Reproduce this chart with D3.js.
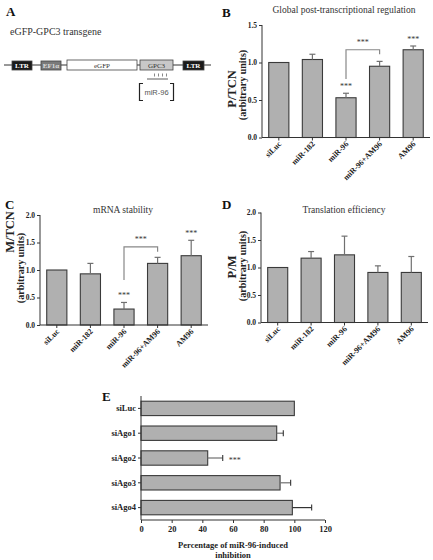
<!DOCTYPE html>
<html><head><meta charset="utf-8">
<script src="https://cdn.jsdelivr.net/npm/d3@7"></script>
<style>body{margin:0;background:#fff}svg{display:block}</style>
</head><body>
<svg id="c" width="433" height="560"></svg>
<script>
// ---------- data ----------
const cats = ["siLuc","miR-182","miR-96","miR-96+AM96","AM96"];
const bVals = [1.0, 1.04, 0.53, 0.95, 1.17];
const bErr  = [0, 0.07, 0.06, 0.065, 0.05];
const cVals = [1.0, 0.93, 0.29, 1.12, 1.26];
const cErr  = [0, 0.19, 0.12, 0.11, 0.28];
const dVals = [1.0, 1.17, 1.23, 0.91, 0.91];
const dErr  = [0, 0.12, 0.34, 0.12, 0.29];
const bTicks = [0, 0.5, 1.0, 1.5];
const cdTicks = [0, 0.5, 1.0, 1.5, 2.0];
const eCats = ["siLuc","siAgo1","siAgo2","siAgo3","siAgo4"];
const eVals = [100, 88.5, 43.5, 90.7, 98.7];
const eErr  = [0, 4.3, 9.8, 6.9, 12.6];
const eTicks = [0, 20, 40, 60, 80, 100, 120];
const bStars = [2, 4];
const cStars = [2, 4];
const eStars = [2];
const bBracket = {from: 2, to: 3, left: 0.78, top: 1.17, right: 1.11};
const cBracket = {from: 2, to: 3, left: 0.82, top: 1.42, right: 1.33};

const svg = d3.select("#c");
const SERIF = "'Liberation Serif','Times New Roman',serif";
const SANS = "'Liberation Sans',Arial,sans-serif";
const BAR = "#b0b0b0", EDGE = "#3a3a3a", ERR = "#707070";

function letter(t, x, y) {
  svg.append("text").attr("x", x).attr("y", y).text(t)
    .attr("font-family", SERIF).attr("font-weight", "bold").attr("font-size", 13).attr("fill", "#111");
}

// ---------- vertical bar panel ----------
function vpanel(o) {
  const g = svg.append("g");
  const x = d3.scaleBand().domain(cats).range(o.xr).paddingInner(0.4).paddingOuter(0.2);
  const y = d3.scaleLinear().domain([0, o.ymax]).range(o.yr);
  g.selectAll("rect.bar").data(o.vals).join("rect")
    .attr("x", (d, i) => x(cats[i])).attr("width", x.bandwidth())
    .attr("y", d => y(d)).attr("height", d => y(0) - y(d))
    .attr("fill", BAR).attr("stroke", EDGE).attr("stroke-width", 1.1);
  o.vals.forEach((v, i) => {
    if (!o.err[i]) return;
    const cx = x(cats[i]) + x.bandwidth() / 2;
    g.append("line").attr("x1", cx).attr("x2", cx).attr("y1", y(v)).attr("y2", y(v + o.err[i]))
      .attr("stroke", ERR).attr("stroke-width", 1.2);
    g.append("line").attr("x1", cx - 3).attr("x2", cx + 3).attr("y1", y(v + o.err[i])).attr("y2", y(v + o.err[i]))
      .attr("stroke", ERR).attr("stroke-width", 1.2);
  });
  const ya = d3.axisLeft(y).tickValues(o.ticks).tickFormat(d3.format(".1f")).tickSize(3).tickPadding(2);
  const yg = g.append("g").attr("transform", `translate(${o.xr[0]},0)`).call(ya);
  yg.select(".domain").attr("d", `M0,${o.yr[0]}V${o.yr[1]}`);
  const xa = d3.axisBottom(x).tickSize(3).tickFormat("");
  const xg = g.append("g").attr("transform", `translate(0,${o.yr[0]})`).call(xa);
  xg.select(".domain").attr("d", `M${o.xr[0]},0H${o.xr[1]}`);
  [yg, xg].forEach(a => {
    a.selectAll("path,line").attr("stroke", "#333").attr("stroke-width", 1);
    a.selectAll("text").attr("font-family", SERIF).attr("font-weight", "bold").attr("font-size", 7.5).attr("fill", "#222");
  });
  g.selectAll("text.cat").data(cats).join("text")
    .attr("transform", d => `translate(${x(d) + x.bandwidth() / 2 + 3},${o.yr[0] + 7}) rotate(-45)`)
    .attr("text-anchor", "end").attr("font-family", SERIF).attr("font-weight", "bold")
    .attr("font-size", 8).attr("fill", "#222").text(d => d);
  g.append("text").attr("x", o.tx).attr("y", o.ty).attr("text-anchor", "middle")
    .attr("font-family", SERIF).attr("font-size", 9.5).attr("fill", "#333").text(o.title);
  g.append("text").attr("transform", `translate(${o.l1x},${o.l1y}) rotate(-90)`).attr("text-anchor", "middle")
    .attr("font-family", SERIF).attr("font-weight", "bold").attr("font-size", 12.5).attr("fill", "#222").text(o.l1);
  g.append("text").attr("transform", `translate(${o.l2x},${o.l2y}) rotate(-90)`).attr("text-anchor", "middle")
    .attr("font-family", SERIF).attr("font-weight", "bold").attr("font-size", 10).attr("fill", "#222").text("(arbitrary units)");
  (o.stars || []).forEach(i => {
    const cx = x(cats[i]) + x.bandwidth() / 2;
    g.append("text").attr("x", cx).attr("y", y(o.vals[i] + o.err[i]) - 4).attr("text-anchor", "middle")
      .attr("font-family", SERIF).attr("font-size", 8).attr("fill", "#333").text("***");
  });
  if (o.bracket) {
    const b = o.bracket;
    const x1 = x(cats[b.from]) + x.bandwidth() / 2, x2 = x(cats[b.to]) + x.bandwidth() / 2;
    g.append("path").attr("d", `M${x1},${y(b.left)}V${y(b.top)}H${x2}V${y(b.right)}`)
      .attr("fill", "none").attr("stroke", "#888").attr("stroke-width", 1.2);
    g.append("text").attr("x", (x1 + x2) / 2).attr("y", y(b.top) - 5).attr("text-anchor", "middle")
      .attr("font-family", SERIF).attr("font-size", 8).attr("fill", "#333").text("***");
  }
}

vpanel({vals: bVals, err: bErr, ymax: 1.5, ticks: bTicks, xr: [262, 430], yr: [137.5, 25],
  title: "Global post-transcriptional regulation", tx: 344, ty: 13,
  l1: "P/TCN", l1x: 236, l1y: 89, l2x: 246, l2y: 85, stars: bStars, bracket: bBracket});
vpanel({vals: cVals, err: cErr, ymax: 2, ticks: cdTicks, xr: [40, 208], yr: [325, 215],
  title: "mRNA stability", tx: 123, ty: 213,
  l1: "M/TCN", l1x: 14, l1y: 232, l2x: 24, l2y: 268, stars: cStars, bracket: cBracket});
vpanel({vals: dVals, err: dErr, ymax: 2, ticks: cdTicks, xr: [261, 428], yr: [322.5, 212.5],
  title: "Translation efficiency", tx: 344, ty: 213,
  l1: "P/M", l1x: 236, l1y: 267, l2x: 246, l2y: 266});

letter("A", 6, 16); letter("B", 222, 17); letter("C", 5, 209); letter("D", 222, 209); letter("E", 102, 401);

// ---------- panel E ----------
(function () {
  const g = svg.append("g");
  const y = d3.scaleBand().domain(eCats).range([396, 520]).paddingInner(0.42).paddingOuter(0.21);
  const x = d3.scaleLinear().domain([0, 120]).range([141, 325]);
  g.selectAll("rect").data(eVals).join("rect")
    .attr("y", (d, i) => y(eCats[i])).attr("height", y.bandwidth())
    .attr("x", x(0)).attr("width", d => x(d) - x(0))
    .attr("fill", BAR).attr("stroke", EDGE).attr("stroke-width", 1.1);
  eVals.forEach((v, i) => {
    if (!eErr[i]) return;
    const cy = y(eCats[i]) + y.bandwidth() / 2;
    g.append("line").attr("x1", x(v)).attr("x2", x(v + eErr[i])).attr("y1", cy).attr("y2", cy)
      .attr("stroke", i === 4 ? "#333" : ERR).attr("stroke-width", 1.2);
    g.append("line").attr("x1", x(v + eErr[i])).attr("x2", x(v + eErr[i])).attr("y1", cy - 3).attr("y2", cy + 3)
      .attr("stroke", "#333").attr("stroke-width", 1.1);
  });
  eStars.forEach(i => {
    const cy = y(eCats[i]) + y.bandwidth() / 2;
    g.append("text").attr("x", x(eVals[i] + eErr[i]) + 6).attr("y", cy + 5)
      .attr("font-family", SERIF).attr("font-size", 8).attr("fill", "#333").text("***");
  });
  const ya = d3.axisLeft(y).tickSize(3).tickPadding(2);
  const yg = g.append("g").attr("transform", `translate(${x(0)},0)`).call(ya);
  yg.select(".domain").attr("d", "M0,396V520");
  const xa = d3.axisBottom(x).tickValues(eTicks).tickSize(3).tickPadding(3);
  const xg = g.append("g").attr("transform", "translate(0,520)").call(xa);
  xg.select(".domain").attr("d", `M${x(0)},0H${x(120)}`);
  [yg, xg].forEach(a => {
    a.selectAll("path,line").attr("stroke", "#333").attr("stroke-width", 1);
    a.selectAll("text").attr("font-family", SERIF).attr("font-weight", "bold").attr("font-size", 8.5).attr("fill", "#222");
  });
  g.append("text").attr("x", 233).attr("y", 548).attr("text-anchor", "middle")
    .attr("font-family", SERIF).attr("font-weight", "bold").attr("font-size", 8.5).attr("fill", "#222")
    .text("Percentage of miR-96-induced");
  g.append("text").attr("x", 233).attr("y", 557.5).attr("text-anchor", "middle")
    .attr("font-family", SERIF).attr("font-weight", "bold").attr("font-size", 8.5).attr("fill", "#222")
    .text("inhibition");
})();

// ---------- panel A (construct diagram) ----------
(function () {
  const g = svg.append("g");
  g.append("text").attr("x", 10).attr("y", 35).attr("font-family", SERIF).attr("font-size", 10)
    .attr("fill", "#333").text("eGFP-GPC3 transgene");
  g.append("line").attr("x1", 4).attr("x2", 211).attr("y1", 65).attr("y2", 65).attr("stroke", "#333").attr("stroke-width", 1);
  const boxes = [
    {x: 12, w: 20, y: 61, h: 9, fill: "#1a1a1a", tc: "#fff", t: "LTR", bold: true},
    {x: 41, w: 20, y: 61, h: 9, fill: "#7a7a7a", tc: "#ddd", t: "EF1α", bold: true},
    {x: 67, w: 70, y: 60, h: 10, fill: "#fff", tc: "#333", t: "eGFP"},
    {x: 140, w: 33, y: 60, h: 10, fill: "#c8c8c8", tc: "#333", t: "GPC3"},
    {x: 183, w: 21, y: 61, h: 9, fill: "#1a1a1a", tc: "#fff", t: "LTR", bold: true}
  ];
  boxes.forEach(b => {
    g.append("rect").attr("x", b.x).attr("y", b.y).attr("width", b.w).attr("height", b.h)
      .attr("fill", b.fill).attr("stroke", "#444").attr("stroke-width", 0.8);
    g.append("text").attr("x", b.x + b.w / 2).attr("y", b.y + b.h / 2 + 2.5).attr("text-anchor", "middle")
      .attr("font-family", SERIF).attr("font-weight", b.bold ? "bold" : "normal").attr("font-size", 7)
      .attr("fill", b.tc).text(b.t);
  });
  g.append("line").attr("x1", 147).attr("x2", 168).attr("y1", 79).attr("y2", 79).attr("stroke", "#333").attr("stroke-width", 0.8);
  [154.5, 158.5, 162.5, 166.5].forEach(px => g.append("line").attr("x1", px).attr("x2", px).attr("y1", 73.5).attr("y2", 76.5)
    .attr("stroke", "#555").attr("stroke-width", 0.7));
  g.append("path").attr("d", "M143,83.5H139.5V100.5H143").attr("fill", "none").attr("stroke", "#222").attr("stroke-width", 1.2);
  g.append("path").attr("d", "M170,83.5H173.5V100.5H170").attr("fill", "none").attr("stroke", "#222").attr("stroke-width", 1.2);
  g.append("text").attr("x", 156.5).attr("y", 95).attr("text-anchor", "middle").attr("font-family", SANS)
    .attr("font-size", 7.5).attr("fill", "#555").text("miR-96");
})();
</script>
</body></html>
